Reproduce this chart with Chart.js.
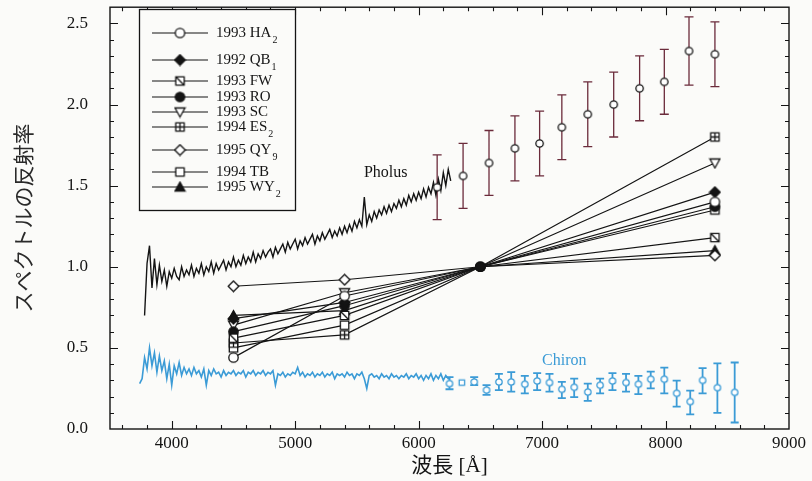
<!DOCTYPE html>
<html>
<head>
<meta charset="utf-8">
<script src="https://cdn.jsdelivr.net/npm/chart.js@4.4.1/dist/chart.umd.min.js"></script>
<style>
  html, body { margin: 0; padding: 0; background: #fbfbf9; }
  #wrap { width: 812px; height: 481px; }
</style>
</head>
<body>
<div id="wrap"><canvas id="chart" width="812" height="481"></canvas></div>
<script>
// axis ticks
const xTickValues = [4000, 5000, 6000, 7000, 8000, 9000];
const yTickValues = [0, 0.5, 1.0, 1.5, 2.0, 2.5];

// Pholus spectrum, sampled every 20 A from 3780 A
const pholusSpecStart = 3780;
const pholusSpecStep = 20;
const pholusSpec = [
  0.70, 1.02, 1.13, 0.87, 1.05, 0.89, 1.01, 0.91, 0.98, 0.88,
  0.97, 0.93, 0.99, 0.94, 0.92, 1.00, 0.94, 0.98, 0.95, 1.01,
  0.94, 0.99, 0.96, 1.02, 0.95, 1.00, 0.97, 1.03, 0.96, 1.02,
  0.98, 1.01, 1.04, 0.98, 1.03, 1.00, 1.06, 1.00, 1.04, 1.01,
  1.07, 1.02, 1.06, 1.03, 1.09, 1.03, 1.08, 1.05, 1.10, 1.06,
  1.09, 1.11, 1.06, 1.12, 1.08, 1.11, 1.14, 1.09, 1.15, 1.11,
  1.14, 1.17, 1.11, 1.16, 1.13, 1.18, 1.14, 1.17, 1.20, 1.14,
  1.19, 1.16, 1.21, 1.17, 1.20, 1.23, 1.18, 1.22, 1.19, 1.24,
  1.20, 1.25, 1.21, 1.26, 1.22, 1.28, 1.24, 1.29, 1.25, 1.43,
  1.26, 1.32, 1.28, 1.34, 1.30, 1.35, 1.32, 1.37, 1.33, 1.38,
  1.34, 1.39, 1.36, 1.41, 1.37, 1.42, 1.38, 1.44, 1.40, 1.45,
  1.41, 1.46, 1.42, 1.48, 1.43, 1.49, 1.45, 1.52, 1.44, 1.54,
  1.47, 1.58, 1.50, 1.60, 1.53
];

// Chiron spectrum, sampled every 20 A from 3740 A
const chironSpecStart = 3740;
const chironSpecStep = 20;
const chironSpec = [
  0.28, 0.31, 0.44, 0.37, 0.50, 0.39, 0.47, 0.35, 0.45, 0.36,
  0.42, 0.31, 0.40, 0.27, 0.39, 0.34, 0.41, 0.33, 0.38, 0.34,
  0.37, 0.33, 0.38, 0.34, 0.36, 0.32, 0.37, 0.27, 0.36, 0.33,
  0.37, 0.34, 0.35, 0.32, 0.36, 0.33, 0.35, 0.34, 0.36, 0.33,
  0.35, 0.34, 0.36, 0.32, 0.35, 0.34, 0.36, 0.33, 0.35, 0.34,
  0.36, 0.33, 0.35, 0.34, 0.36, 0.27, 0.34, 0.33, 0.35, 0.32,
  0.34, 0.33, 0.35, 0.34, 0.38, 0.33, 0.35, 0.32, 0.34, 0.33,
  0.35, 0.32, 0.34, 0.33, 0.35, 0.32, 0.34, 0.33, 0.35, 0.31,
  0.34, 0.33, 0.34, 0.32, 0.35, 0.33, 0.34, 0.31, 0.34, 0.33,
  0.35, 0.31, 0.25, 0.33, 0.34, 0.32, 0.33, 0.31, 0.34, 0.32,
  0.33, 0.31, 0.34, 0.32, 0.33, 0.31, 0.33, 0.32, 0.34, 0.31,
  0.33, 0.32, 0.34, 0.31, 0.33, 0.30, 0.33, 0.31, 0.34, 0.30,
  0.33, 0.31, 0.34, 0.30, 0.33, 0.31, 0.32
];

// Pholus broadband photometry
const pholusPhotWave = [6150, 6360, 6570, 6780, 6980, 7160, 7370, 7580, 7790, 7990, 8190, 8400];
const pholusPhotR = [1.49, 1.56, 1.64, 1.73, 1.76, 1.86, 1.94, 2.00, 2.10, 2.14, 2.33, 2.31];
const pholusPhotErr = [0.20, 0.20, 0.20, 0.20, 0.20, 0.20, 0.20, 0.20, 0.20, 0.20, 0.21, 0.20];

// Chiron photometry (null = no error bar)
const chironPhotWave = [6250, 6350, 6450, 6550, 6650, 6750, 6860, 6960, 7060, 7160, 7260, 7370,
  7470, 7570, 7680, 7780, 7880, 7990, 8090, 8200, 8300, 8420, 8560];
const chironPhotR = [0.28, 0.286, 0.29, 0.24, 0.29, 0.29, 0.276, 0.296, 0.286, 0.245, 0.257, 0.228,
  0.27, 0.296, 0.286, 0.276, 0.307, 0.307, 0.22, 0.169, 0.30, 0.255, 0.226];
const chironErrLow = [0.245, null, 0.27, 0.21, 0.24, 0.23, 0.22, 0.24, 0.23, 0.19, 0.196, 0.173,
  0.22, 0.24, 0.23, 0.215, 0.25, 0.22, 0.138, 0.09, 0.22, 0.10, 0.04];
const chironErrHigh = [0.32, null, 0.32, 0.27, 0.34, 0.35, 0.327, 0.344, 0.34, 0.29, 0.31, 0.28,
  0.31, 0.344, 0.34, 0.327, 0.354, 0.378, 0.298, 0.236, 0.375, 0.405, 0.41];

// Centaur / TNO colours normalised at 6500 A
const colorWave = [4500, 5400, 6500, 8400];
const objNames = ['1993 HA', '1992 QB', '1993 FW', '1993 RO', '1993 SC', '1994 ES', '1995 QY', '1994 TB', '1995 WY'];
const objSubs = ['2', '1', '', '', '', '2', '9', '', '2'];
const ha2 = [0.44, 0.82, 1.0, 1.40];
const qb1 = [0.68, 0.78, 1.0, 1.46];
const fw = [0.56, 0.70, 1.0, 1.18];
const ro = [0.60, 0.76, 1.0, 1.37];
const sc = [0.64, 0.84, 1.0, 1.64];
const es2 = [0.53, 0.58, 1.0, 1.80];
const qy9 = [0.88, 0.92, 1.0, 1.07];
const tb = [0.50, 0.64, 1.0, 1.35];
const wy2 = [0.70, 0.73, 1.0, 1.10];
const objValues = [ha2, qb1, fw, ro, sc, es2, qy9, tb, wy2];
const objMarkers = ['circle', 'diamondFilled', 'squareSlash', 'dot', 'triDown', 'squarePlus', 'diamond', 'square', 'triFilled'];

const ink = '#141414';
const blue = '#3b9bd6';
const barRed = '#6b2b3b';
const serif = "'Liberation Serif', 'Times New Roman', serif";

// small marker bitmaps used as pointStyle
function makeMarker(kind, color, size) {
  const c = document.createElement('canvas');
  c.width = c.height = size;
  const g = c.getContext('2d');
  const m = size / 2, r = size / 2 - 1.5;
  g.lineWidth = 1.3;
  g.strokeStyle = color;
  g.fillStyle = '#fff';
  g.beginPath();
  if (kind === 'circle' || kind === 'dot') {
    g.arc(m, m, r - 0.3, 0, Math.PI * 2);
    if (kind === 'dot') g.fillStyle = color;
    g.fill(); g.stroke();
  } else if (kind === 'diamond' || kind === 'diamondFilled') {
    g.moveTo(m, m - r - 0.3); g.lineTo(m + r + 0.3, m); g.lineTo(m, m + r + 0.3); g.lineTo(m - r - 0.3, m); g.closePath();
    if (kind === 'diamondFilled') g.fillStyle = color;
    g.fill(); g.stroke();
  } else if (kind.startsWith('square')) {
    const h = r - 0.8;
    g.rect(m - h, m - h, 2 * h, 2 * h);
    g.fill(); g.stroke();
    g.beginPath();
    if (kind === 'squareSlash') { g.moveTo(m - h, m - h); g.lineTo(m + h, m + h); }
    if (kind === 'squarePlus') { g.moveTo(m, m - h); g.lineTo(m, m + h); g.moveTo(m - h, m); g.lineTo(m + h, m); }
    g.stroke();
  } else if (kind === 'triDown') {
    g.moveTo(m - r, m - r + 1); g.lineTo(m + r, m - r + 1); g.lineTo(m, m + r); g.closePath();
    g.fill(); g.stroke();
  } else if (kind === 'triFilled') {
    g.moveTo(m, m - r); g.lineTo(m + r, m + r - 1); g.lineTo(m - r, m + r - 1); g.closePath();
    g.fillStyle = color;
    g.fill(); g.stroke();
  }
  return c;
}

const normDot = makeMarker('dot', ink, 12);
const pholusCircle = makeMarker('circle', ink, 11);
const chironCircle = makeMarker('circle', blue, 10);
const chironSquare = makeMarker('square', blue, 10);

function pairs(xs, ys) {
  return xs.map((x, i) => ({ x: x, y: ys[i] }));
}
function gridPairs(start, step, ys) {
  return ys.map((y, i) => ({ x: start + i * step, y: y }));
}

const datasets = [];

objValues.forEach((vals, i) => {
  const mk = makeMarker(objMarkers[i], ink, 13);
  datasets.push({
    label: objNames[i] + objSubs[i],
    data: pairs(colorWave, vals),
    borderColor: ink,
    borderWidth: 1.2,
    pointRadius: 6,
    pointStyle: ctx => (ctx.dataIndex === 2 ? normDot : mk),
    legendMarker: mk,
    legendName: objNames[i],
    legendSub: objSubs[i]
  });
});

datasets.push({
  label: 'Pholus photometry',
  data: pairs(pholusPhotWave, pholusPhotR),
  showLine: false,
  pointRadius: 5,
  pointStyle: pholusCircle,
  errLow: pholusPhotR.map((v, i) => v - pholusPhotErr[i]),
  errHigh: pholusPhotR.map((v, i) => v + pholusPhotErr[i]),
  errColor: barRed,
  errWidth: 1.3,
  capHalf: 4.5
});

datasets.push({
  label: 'Chiron photometry',
  data: pairs(chironPhotWave, chironPhotR),
  showLine: false,
  pointRadius: 5,
  pointStyle: ctx => (chironErrLow[ctx.dataIndex] == null ? chironSquare : chironCircle),
  errLow: chironErrLow,
  errHigh: chironErrHigh,
  errColor: blue,
  errWidth: 1.8,
  capHalf: 4
});

datasets.push({
  label: 'Pholus',
  data: gridPairs(pholusSpecStart, pholusSpecStep, pholusSpec),
  borderColor: ink,
  borderWidth: 1.4,
  pointRadius: 0
});

datasets.push({
  label: 'Chiron',
  data: gridPairs(chironSpecStart, chironSpecStep, chironSpec),
  borderColor: blue,
  borderWidth: 1.6,
  pointRadius: 0
});

// vertical error bars with caps, drawn under the markers
const errorBars = {
  id: 'errorBars',
  beforeDatasetsDraw(chart) {
    const { ctx, scales: { x, y } } = chart;
    chart.data.datasets.forEach(ds => {
      if (!ds.errLow) return;
      ctx.save();
      ctx.strokeStyle = ds.errColor;
      ctx.lineWidth = ds.errWidth;
      ctx.beginPath();
      ds.data.forEach((p, j) => {
        const lo = ds.errLow[j], hi = ds.errHigh[j];
        if (lo == null) return;
        const px = x.getPixelForValue(p.x);
        const y0 = y.getPixelForValue(lo), y1 = y.getPixelForValue(hi);
        ctx.moveTo(px, y0); ctx.lineTo(px, y1);
        ctx.moveTo(px - ds.capHalf, y0); ctx.lineTo(px + ds.capHalf, y0);
        ctx.moveTo(px - ds.capHalf, y1); ctx.lineTo(px + ds.capHalf, y1);
      });
      ctx.stroke();
      ctx.restore();
    });
  }
};

// box frame with inward ticks on all four sides
const frameTicks = {
  id: 'frameTicks',
  afterDatasetsDraw(chart) {
    const { ctx, chartArea: a, scales: { x, y } } = chart;
    ctx.save();
    ctx.strokeStyle = ink;
    ctx.lineWidth = 1.4;
    ctx.strokeRect(a.left, a.top, a.right - a.left, a.bottom - a.top);
    ctx.lineWidth = 1.1;
    ctx.beginPath();
    for (let v = 3600; v < 9000; v += 200) {
      const px = Math.round(x.getPixelForValue(v)) + 0.5;
      const len = v % 1000 === 0 ? 8 : 4;
      ctx.moveTo(px, a.bottom); ctx.lineTo(px, a.bottom - len);
      ctx.moveTo(px, a.top); ctx.lineTo(px, a.top + len);
    }
    for (let k = 1; k < 26; k++) {
      const py = Math.round(y.getPixelForValue(k / 10)) + 0.5;
      const len = k % 5 === 0 ? 8 : 4;
      ctx.moveTo(a.left, py); ctx.lineTo(a.left + len, py);
      ctx.moveTo(a.right, py); ctx.lineTo(a.right - len, py);
    }
    ctx.stroke();
    ctx.restore();
  }
};

// boxed key in the upper left corner
const legendRows = [33, 60, 81, 97, 112, 127, 150, 172, 187];
const keyBox = {
  id: 'keyBox',
  afterDraw(chart) {
    const { ctx } = chart;
    ctx.save();
    ctx.fillStyle = '#fbfbf9';
    ctx.fillRect(139, 9, 156, 201);
    ctx.strokeStyle = ink;
    ctx.lineWidth = 1.3;
    ctx.strokeRect(139.5, 9.5, 156, 201);
    let row = 0;
    chart.data.datasets.forEach(ds => {
      if (!ds.legendMarker) return;
      const yy = legendRows[row++];
      ctx.beginPath();
      ctx.lineWidth = 1.2;
      ctx.moveTo(152, yy); ctx.lineTo(208, yy);
      ctx.stroke();
      ctx.drawImage(ds.legendMarker, 180 - ds.legendMarker.width / 2, yy - ds.legendMarker.height / 2);
      ctx.fillStyle = ink;
      ctx.textBaseline = 'middle';
      ctx.font = '15px ' + serif;
      ctx.fillText(ds.legendName, 216, yy);
      if (ds.legendSub) {
        const w = ctx.measureText(ds.legendName).width;
        ctx.font = '10px ' + serif;
        ctx.fillText(ds.legendSub, 217 + w, yy + 7);
      }
    });
    ctx.restore();
  }
};

// object names placed in data coordinates
const curveLabels = {
  id: 'curveLabels',
  afterDatasetsDraw(chart) {
    const { ctx, scales: { x, y } } = chart;
    ctx.save();
    ctx.font = '16px ' + serif;
    ctx.textBaseline = 'middle';
    ctx.textAlign = 'right';
    ctx.fillStyle = ink;
    ctx.fillText('Pholus', x.getPixelForValue(5910), y.getPixelForValue(1.58));
    ctx.textAlign = 'center';
    ctx.fillStyle = blue;
    ctx.fillText('Chiron', x.getPixelForValue(7180), y.getPixelForValue(0.42));
    ctx.restore();
  }
};

new Chart(document.getElementById('chart'), {
  type: 'line',
  data: { datasets: datasets },
  options: {
    responsive: false,
    animation: false,
    devicePixelRatio: 1,
    layout: { padding: { top: 7, right: 23, left: 0, bottom: 0 } },
    plugins: { legend: { display: false }, tooltip: { enabled: false } },
    scales: {
      x: {
        type: 'linear',
        min: 3500,
        max: 9000,
        grid: { display: false, drawTicks: false },
        border: { display: false },
        ticks: { color: ink, font: { family: serif, size: 17 }, padding: 4, maxRotation: 0, callback: v => String(v) },
        afterBuildTicks: s => { s.ticks = xTickValues.map(v => ({ value: v })); },
        afterFit: s => { s.height = 52; s.paddingLeft = 0; s.paddingRight = 0; },
        title: {
          display: true,
          text: '波長 [Å]',
          color: ink,
          font: { family: "'Liberation Serif', 'Noto Sans CJK JP', serif", size: 21 },
          padding: { top: 0, bottom: 2 }
        }
      },
      y: {
        min: 0,
        max: 2.6,
        grid: { display: false, drawTicks: false },
        border: { display: false },
        ticks: { color: ink, font: { family: serif, size: 17 }, padding: 22, callback: v => v.toFixed(1) },
        afterBuildTicks: s => { s.ticks = yTickValues.map(v => ({ value: v })); },
        afterFit: s => { s.width = 110; s.paddingTop = 0; s.paddingBottom = 0; },
        title: {
          display: true,
          text: 'スペクトルの反射率',
          color: '#2a2a2a',
          font: { family: "'Noto Sans CJK JP', sans-serif", size: 21 },
          padding: { top: 10, bottom: 0 }
        }
      }
    }
  },
  plugins: [errorBars, frameTicks, keyBox, curveLabels]
});
</script>
</body>
</html>
